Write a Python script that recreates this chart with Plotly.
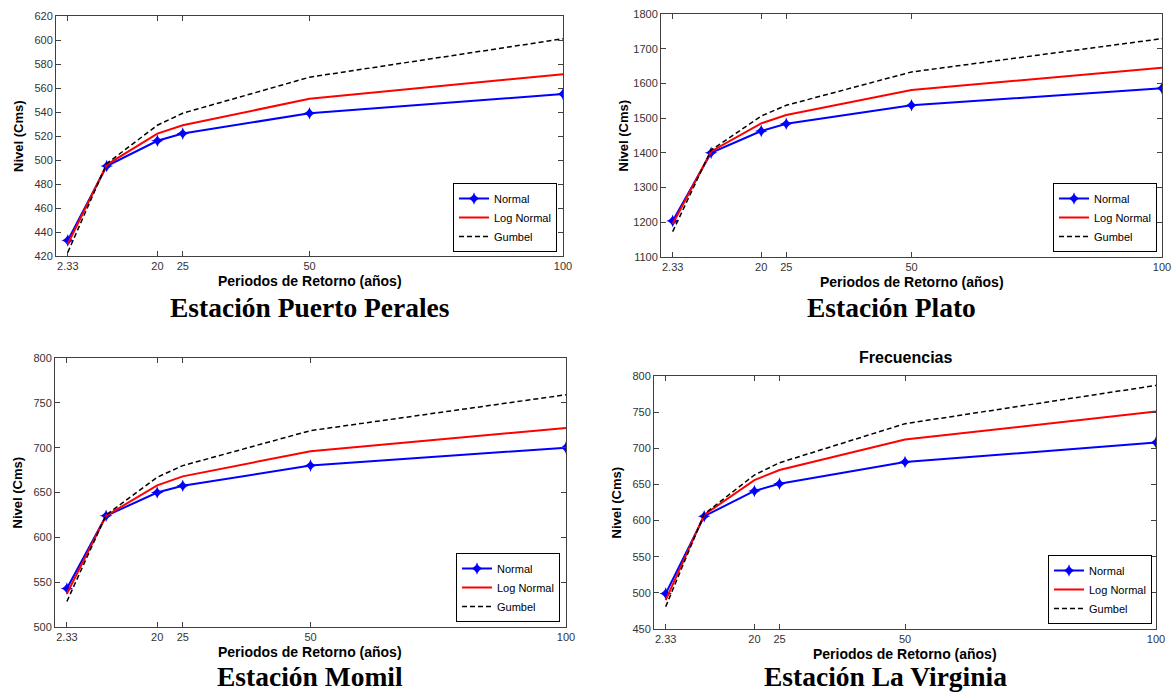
import plotly.graph_objects as go

W, H = 1172, 694

periodos = [2.33, 10, 20, 25, 50, 100]
tick_vals = [2.33, 20, 25, 50, 100]
tick_text = ["2.33", "20", "25", "50", "100"]
series_names = ["Normal", "Log Normal", "Gumbel"]

perales_normal = [433, 495, 516, 522, 539, 555]
perales_lognormal = [430, 496, 522, 529, 551, 571.5]
perales_gumbel = [423, 497, 529, 539, 569, 601]

plato_normal = [1204, 1400, 1463, 1484, 1537, 1586]
plato_lognormal = [1195, 1404, 1485, 1509, 1581, 1645]
plato_gumbel = [1173, 1408, 1506, 1537, 1633, 1729]

momil_normal = [543, 624, 650, 657.5, 680, 700]
momil_lognormal = [537, 624, 658, 668, 696, 722]
momil_gumbel = [528.5, 625, 667, 680, 719, 759]

virginia_normal = [499, 606, 641, 651, 681, 708]
virginia_lognormal = [490, 608, 656, 670, 712, 751]
virginia_gumbel = [481, 609, 663, 680, 734, 787]

panels = [
    dict(data=[perales_normal, perales_lognormal, perales_gumbel], yr=[420, 620], dt=20,
         box=(56, 563, 16, 256), title="Estación Puerto Perales", leg=(557, 252), tdy=51),
    dict(data=[plato_normal, plato_lognormal, plato_gumbel], yr=[1100, 1800], dt=100,
         box=(661, 1162, 14, 257), title="Estación Plato", leg=(1157, 252), tdy=50),
    dict(data=[momil_normal, momil_lognormal, momil_gumbel], yr=[500, 800], dt=50,
         box=(55, 566, 358, 627), title="Estación Momil", leg=(560, 622), tdy=49),
    dict(data=[virginia_normal, virginia_lognormal, virginia_gumbel], yr=[450, 800], dt=50,
         box=(654, 1156, 376, 629), title="Estación La Virginia", leg=(1152, 624), tdy=47),
]

styles = [
    dict(mode="lines+markers", line=dict(color="#0000ff", width=2),
         marker=dict(symbol="star-diamond", size=9, color="#0000ff")),
    dict(mode="lines", line=dict(color="#ff0000", width=2)),
    dict(mode="lines", line=dict(color="#000000", width=1.5, dash="5px,3px")),
]

fig = go.Figure()
annotations = []
tick_font = dict(family="Liberation Sans, Arial", size=11, color="#333333")
for i, p in enumerate(panels):
    n = "" if i == 0 else str(i + 1)
    legname = "legend" + n
    x0, x1, y0, y1 = p["box"]
    for name, vals, st in zip(series_names, p["data"], styles):
        fig.add_trace(go.Scatter(x=periodos, y=vals, name=name, xaxis="x" + n, yaxis="y" + n,
                                 legend=legname, **st))
    axcommon = dict(showgrid=False, zeroline=False, showline=True, linecolor="#404040",
                    linewidth=1, mirror="ticks", ticks="inside", ticklen=5, automargin=False,
                    tickcolor="#404040", tickfont=tick_font)
    fig.update_layout(**{
        "xaxis" + n: dict(domain=[x0 / W, x1 / W], range=[0, 100], tickmode="array",
                          tickvals=tick_vals, ticktext=tick_text, anchor="y" + n, **axcommon),
        "yaxis" + n: dict(domain=[1 - y1 / H, 1 - y0 / H], range=p["yr"], dtick=p["dt"],
                          tick0=p["yr"][0], anchor="x" + n, **axcommon),
        legname: dict(x=p["leg"][0] / W, y=1 - p["leg"][1] / H, xanchor="right", yanchor="bottom",
                      bgcolor="white", bordercolor="#000000", borderwidth=1,
                      font=dict(family="Liberation Sans, Arial", size=11, color="#000000"),
                      traceorder="normal", itemwidth=30, tracegroupgap=0),
    })
    cx = (x0 + x1) / 2
    annotations.append(dict(text="<b>Periodos de Retorno (años)</b>", x=cx / W, y=1 - (y1 + 25) / H,
                            xref="paper", yref="paper", showarrow=False, xanchor="center", yanchor="middle",
                            font=dict(family="Liberation Sans, Arial", size=14, color="#000")))
    annotations.append(dict(text="<b>Nivel (Cms)</b>", x=(x0 - 38) / W, y=1 - ((y0 + y1) / 2) / H,
                            xref="paper", yref="paper", showarrow=False, textangle=-90,
                            xanchor="center", yanchor="middle",
                            font=dict(family="Liberation Sans, Arial", size=13, color="#000")))
    annotations.append(dict(text="<b>" + p["title"] + "</b>", x=(cx - (0 if i % 2 == 0 else 20)) / W,
                            y=1 - (y1 + p["tdy"]) / H, xref="paper", yref="paper", showarrow=False,
                            xanchor="center", yanchor="middle",
                            font=dict(family="Liberation Serif, serif", size=27.5, color="#000")))

annotations.append(dict(text="<b>Frecuencias</b>", x=905 / W, y=1 - 358 / H, xref="paper", yref="paper",
                        showarrow=False, xanchor="center", yanchor="middle",
                        font=dict(family="Liberation Sans, Arial", size=16, color="#000")))

fig.update_layout(width=W, height=H, margin=dict(l=0, r=0, t=0, b=0, autoexpand=False),
                  paper_bgcolor="white", plot_bgcolor="white", annotations=annotations,
                  showlegend=True)
fig.write_html("out.html", config={"displayModeBar": False},
               post_script="document.body.style.margin='0';document.body.style.overflow='hidden';")
